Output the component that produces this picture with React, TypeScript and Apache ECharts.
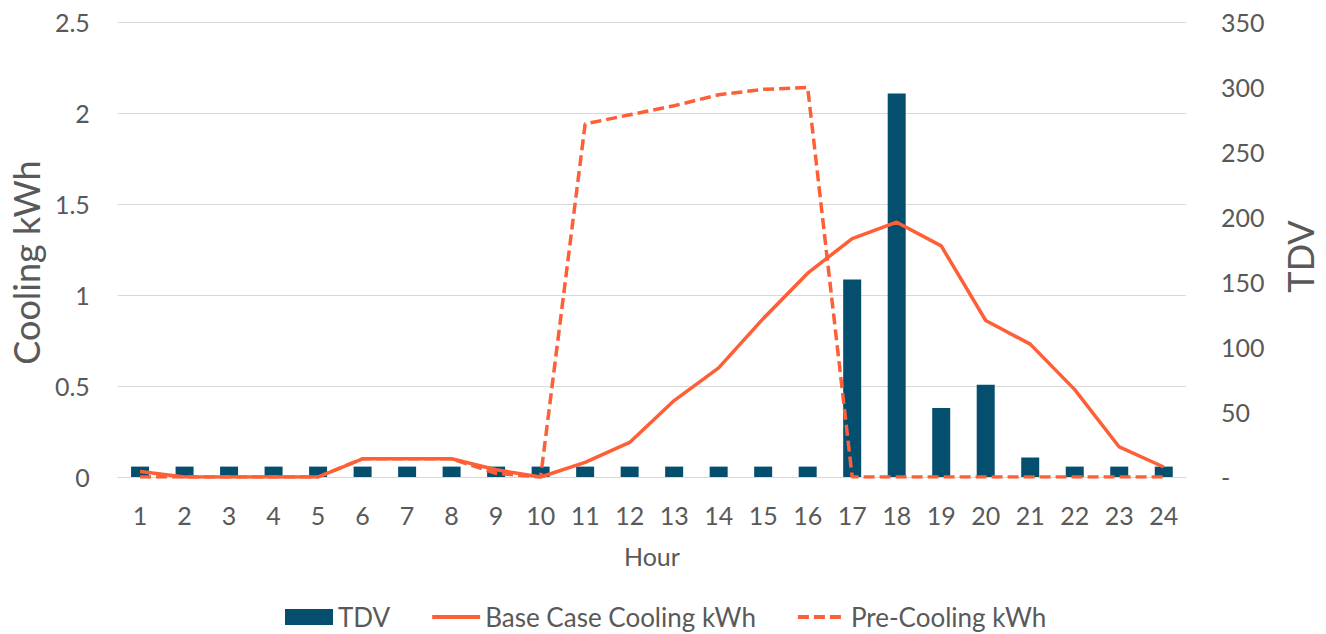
import React, { useEffect, useRef } from "react";
import * as echarts from "echarts";

const hours = ["1","2","3","4","5","6","7","8","9","10","11","12","13","14","15","16","17","18","19","20","21","22","23","24"];
const tdv = [8, 8, 8, 8, 8, 8, 8, 8, 8, 8, 8, 8, 8, 8, 8, 8, 152, 295, 53, 71, 15, 8, 8, 8];
const baseCase = [0.03, 0, 0, 0, 0, 0.1, 0.1, 0.1, 0.04, 0, 0.08, 0.19, 0.42, 0.6, 0.87, 1.12, 1.31, 1.4, 1.27, 0.86, 0.73, 0.48, 0.165, 0.055];
const preCooling = [0, 0, 0, 0, 0, 0.1, 0.1, 0.1, 0.02, 0, 1.94, 1.99, 2.04, 2.1, 2.13, 2.14, 0, 0, 0, 0, 0, 0, 0, 0];

const FONT = "Lato";
const TXT = "#595959";
const ORANGE = "#FF5F36";
const NAVY = "#044E6E";
const DASH = [11, 5];

export default function App() {
  const ref = useRef<HTMLDivElement>(null);
  useEffect(() => {
    if (!ref.current) return;
    const chart = echarts.init(ref.current, undefined, { renderer: "svg" });
    chart.setOption({
      animation: false,
      textStyle: { fontFamily: FONT },
      grid: { left: 115, right: 131, top: 22, bottom: 157, containLabel: false },
      legend: {
        top: 603,
        left: 285,
        padding: 0,
        itemGap: 40,
        itemWidth: 48,
        itemHeight: 16,
        textStyle: { fontFamily: FONT, fontSize: 26, lineHeight: 28, color: TXT },
        data: [
          { name: "TDV", icon: "rect" },
          { name: "Base Case Cooling kWh", itemStyle: { opacity: 0 }, lineStyle: { width: 4 } },
          { name: "Pre-Cooling kWh", itemStyle: { opacity: 0 }, lineStyle: { width: 4, type: DASH } },
        ],
      },
      xAxis: {
        type: "category",
        data: hours,
        name: "Hour",
        nameLocation: "middle",
        nameGap: 66,
        nameTextStyle: { fontFamily: FONT, fontSize: 25, color: TXT },
        axisLine: { lineStyle: { color: "#D9D9D9", width: 1 } },
        axisTick: { show: false },
        axisLabel: { color: TXT, fontSize: 25, fontFamily: FONT, margin: 25 },
      },
      yAxis: [
        {
          type: "value",
          min: 0,
          max: 2.5,
          interval: 0.5,
          name: "Cooling kWh",
          nameLocation: "middle",
          nameGap: 64,
          nameTextStyle: { fontFamily: FONT, fontSize: 36, color: TXT, padding: [0, 26, 0, 0] },
          axisLine: { show: false },
          axisTick: { show: false },
          axisLabel: { color: TXT, fontSize: 25, fontFamily: FONT, margin: 28 },
          splitLine: { lineStyle: { color: "#D9D9D9", width: 1 } },
        },
        {
          type: "value",
          min: 0,
          max: 350,
          interval: 50,
          name: "TDV",
          nameLocation: "middle",
          nameGap: 96,
          nameTextStyle: { fontFamily: FONT, fontSize: 36, color: TXT, padding: [0, 14, 0, 0] },
          axisLine: { show: false },
          axisTick: { show: false },
          splitLine: { show: false },
          axisLabel: {
            color: TXT,
            fontSize: 25,
            fontFamily: FONT,
            margin: 35,
            align: "left",
            formatter: (v: number) => (v === 0 ? "-" : String(v)),
          },
        },
      ],
      series: [
        {
          name: "TDV",
          type: "bar",
          yAxisIndex: 1,
          data: tdv,
          barWidth: 18,
          itemStyle: { color: NAVY },
        },
        {
          name: "Base Case Cooling kWh",
          type: "line",
          yAxisIndex: 0,
          data: baseCase,
          symbol: "none",
          lineStyle: { color: ORANGE, width: 3.5 },
          itemStyle: { color: ORANGE },
        },
        {
          name: "Pre-Cooling kWh",
          type: "line",
          yAxisIndex: 0,
          data: preCooling,
          symbol: "none",
          lineStyle: { color: ORANGE, width: 3.5, type: DASH },
          itemStyle: { color: ORANGE },
        },
      ],
    });
    return () => chart.dispose();
  }, []);
  return (
    <div
      ref={ref}
      style={{ position: "fixed", left: 0, top: 0, width: 1326, height: 634, background: "#fff" }}
    />
  );
}
